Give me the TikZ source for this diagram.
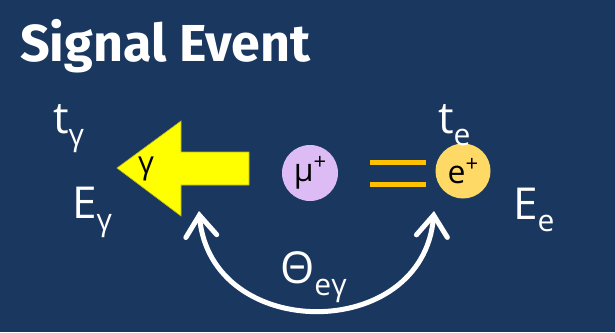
\documentclass[tikz,border=0pt]{standalone}
\usepackage{fontspec}
\setmainfont{Open Sans}
\newfontfamily\titlefont{Fira Sans}
\usetikzlibrary{arrows.meta}
\definecolor{bgblue}{HTML}{1A385F}
\definecolor{arrowyellow}{HTML}{FFFF00}
\definecolor{arrowedge}{HTML}{B8B820}
\definecolor{mucol}{HTML}{DDBCF6}
\definecolor{ecol}{HTML}{FFD966}
\definecolor{barcol}{HTML}{FFC000}
\newcommand{\mysub}[1]{\raisebox{-0.28em}{\fontsize{30}{30}\selectfont #1}}
\newcommand{\mysup}[1]{\raisebox{0.38em}{\fontsize{22}{22}\selectfont #1}}
\tikzset{
  lbl/.style={text=white, font=\fontsize{44}{44}\selectfont, inner sep=0pt, anchor=base west},
  ball/.style={circle, inner sep=0pt, font=\fontsize{32}{32}\selectfont},
  bar/.style={barcol, line width=5pt},
  anglearc/.style={white, line width=5pt, line cap=round,
     {Straight Barb[length=21pt,width=31pt,line cap=round]}-{Straight Barb[length=21pt,width=31pt,line cap=round]}}
}
\begin{document}
\begin{tikzpicture}[x=1pt,y=-1pt]
\fill[bgblue] (0,0) rectangle (615,332);
\useasboundingbox (0,0) rectangle (615,332);
\node[text=white, font=\titlefont\bfseries\fontsize{52}{52}\selectfont, inner sep=0pt, anchor=base west] (title) at (20,61) {Signal Event};
% photon arrow
\filldraw[fill=arrowyellow, draw=arrowedge, line width=0.6pt] (117,168) -- (181,121) -- (181,152) -- (249,152) -- (249,185) -- (181,185) -- (181,216) -- cycle;
\node[inner sep=0pt, font=\fontsize{31}{31}\selectfont] (gam) at (146,169) {γ};
% particles
\node[ball, fill=mucol, minimum size=56pt] (mu) at (310,173) {μ\mysup{+}};
\node[ball, fill=ecol, minimum size=55pt] (ep) at (463,171) {e\mysup{+}};
\coordinate (b1a) at (370,162.5);
\coordinate (b1b) at (426,162.5);
\coordinate (b2a) at (370,184.5);
\coordinate (b2b) at (426,184.5);
\draw[bar] (b1a) -- (b1b);
\draw[bar] (b2a) -- (b2b);
% labels
\node[lbl] (tg) at (53,133) {t\mysub{γ}};
\node[lbl] (Eg) at (72,218) {E\mysub{γ}};
\node[lbl] (te) at (438,133) {t\mysub{e}};
\node[lbl] (Ee) at (513,219) {E\mysub{e}};
\node[lbl] (th) at (280,283) {Θ\mysub{eγ}};
% angle arc
\coordinate (arcL) at (199,211);
\coordinate (arcR) at (434,211);
\draw[anglearc] (arcL) .. controls (211,343) and (423,343) .. (arcR);
\end{tikzpicture}
\end{document}
